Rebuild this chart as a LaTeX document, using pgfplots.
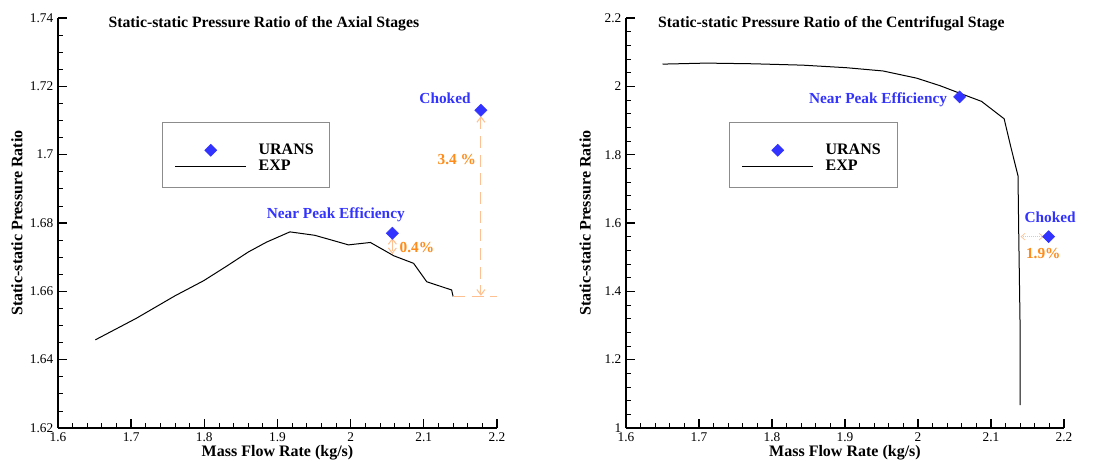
\documentclass[border=0pt]{standalone}
\usepackage{pgfplots}
\pgfplotsset{compat=1.18}
\usepackage{fontspec}
\setmainfont{Liberation Serif}
\usetikzlibrary{arrows.meta}
\definecolor{uransblue}{RGB}{51,51,255}
\definecolor{annorange}{RGB}{255,140,26}
\definecolor{annpeach}{RGB}{255,192,145}

\newcommand{\labfont}{\fontsize{12}{14}\selectfont\bfseries}
\newcommand{\notefont}{\fontsize{11.5}{13}\selectfont\bfseries}

\tikzset{
  note/.style={font=\notefont},
  gap/.style={annpeach, line width=0.8pt, dash pattern=on 9pt off 5pt,
    arrows={Straight Barb[length=4pt,width=6pt]-Straight Barb[length=4pt,width=6pt]}},
  legbox/.style={draw=gray!90, line width=0.7pt},
}
\pgfplotsset{
  tecstyle/.style={
    scale only axis, width=329.25pt, height=307.5pt,
    axis x line*=bottom, axis y line*=left,
    axis line style={line width=1.5pt},
    tick align=inside,
    major tick length=6.75pt, minor tick length=3.4pt,
    every major tick/.append style={line width=1pt, black},
    every minor tick/.append style={line width=0.6pt, black},
    tick label style={font=\fontsize{10}{12}\selectfont},
    /pgf/number format/assume math mode=true,
    xmin=1.6, xmax=2.2, xtick={1.6,1.7,1.8,1.9,2,2.1,2.2}, minor x tick num=4,
    every axis x label/.style={at={(axis description cs:0.5,-0.061)},anchor=center,font=\labfont},
    every axis y label/.style={at={(axis description cs:-0.0934,0.5)},rotate=90,anchor=center,font=\labfont},
    every axis title/.style={at={(axis description cs:0.469,0.985)},anchor=center,
      font=\fontsize{11.8}{14}\selectfont\bfseries},
    xlabel={Mass Flow Rate (kg/s)},
    ylabel={Static-static Pressure Ratio},
    clip=false,
    reverse legend,
    legend cell align=left,
    legend style={anchor=north west, draw=none, fill=none, inner xsep=9.5pt, inner ysep=12.5pt,
      yshift=-3pt, font=\labfont, column sep=8pt, row sep=1pt,
      nodes={inner sep=1pt, text height=8pt, text depth=1pt}},
  },
  urans/.style={only marks, mark=square*, mark size=3.2pt,
    mark options={rotate=45, draw=uransblue, fill=uransblue},
    legend image code/.code={\draw[mark repeat=2,mark phase=2,##1] plot coordinates {(0pt,0pt)(26.5pt,0pt)(53pt,0pt)};}},
  exp/.style={black, line width=0.75pt,
    legend image code/.code={\draw[##1] (0pt,0pt) -- (53pt,0pt);}},
}

\begin{document}
\begin{tikzpicture}
% axial stages
\begin{axis}[tecstyle, at={(0pt,0pt)}, anchor=south west,
  ymin=1.62, ymax=1.74, ytick={1.62,1.64,1.66,1.68,1.7,1.72,1.74}, minor y tick num=3,
  title={Static-static Pressure Ratio of the Axial Stages},
  legend style={at={(axis description cs:0.2369,0.7463)}},
]
\addplot[exp] coordinates {
  (1.651,1.6458)(1.707,1.6521)(1.760,1.6587)(1.799,1.6631)(1.830,1.6673)
  (1.860,1.6715)(1.885,1.6744)(1.917,1.6774)(1.951,1.6764)(1.997,1.6736)
  (2.027,1.6743)(2.059,1.6704)(2.086,1.6682)(2.104,1.6628)(2.138,1.6604)
  (2.140,1.6585)};
\addlegendentry{EXP}
\addplot[urans] coordinates {(2.057,1.677)(2.178,1.713)};
\addlegendentry{URANS}
\draw[legbox] (axis description cs:0.2369,0.7463) rectangle (axis description cs:0.6173,0.5878);
\draw[gap] (axis cs:2.057,1.6756) -- (axis cs:2.057,1.6709);
\draw[gap] (axis cs:2.178,1.7113) -- (axis cs:2.178,1.6587);
\draw[annpeach, line width=0.8pt, dash pattern=on 9pt off 5pt] (axis cs:2.14,1.6585) -- (axis cs:2.2,1.6585);
\node[note, text=uransblue] at (axis cs:2.129,1.7166) {Choked};
\node[note, text=uransblue] at (axis cs:1.9796,1.6824) {Near Peak Efficiency};
\node[note, text=annorange] at (axis cs:2.145,1.6987) {3.4 \%};
\node[note, text=annorange] at (axis cs:2.0905,1.6729) {0.4\%};
\end{axis}
% centrifugal stage
\begin{axis}[tecstyle, at={(426pt,0pt)}, anchor=south west,
  width=328.5pt,
  ymin=1, ymax=2.2, ytick={1,1.2,1.4,1.6,1.8,2,2.2}, minor y tick num=4,
  title={Static-static Pressure Ratio of the Centrifugal Stage},
  legend style={at={(axis description cs:0.2352,0.7463)}},
]
\addplot[exp] coordinates {
  (1.650,2.065)(1.710,2.068)(1.774,2.066)(1.842,2.062)(1.902,2.0545)
  (1.952,2.045)(1.998,2.024)(2.030,2.002)(2.057,1.980)(2.087,1.956)
  (2.118,1.905)(2.127,1.824)(2.137,1.738)(2.138,1.570)(2.140,1.277)
  (2.140,1.067)};
\addlegendentry{EXP}
\addplot[urans] coordinates {(2.057,1.969)(2.179,1.560)};
\addlegendentry{URANS}
\draw[legbox] (axis description cs:0.2352,0.7463) rectangle (axis description cs:0.6187,0.5878);
\draw[annpeach, line width=0.5pt, densely dotted,
  arrows={Straight Barb[length=3pt,width=5pt]-Straight Barb[length=3pt,width=5pt]}]
  (axis cs:2.1405,1.560) -- (axis cs:2.172,1.560);
\node[note, text=uransblue] at (axis cs:1.9453,1.9608) {Near Peak Efficiency};
\node[note, text=uransblue, anchor=west, inner sep=0pt] at (axis cs:2.1456,1.617) {Choked};
\node[note, text=annorange] at (axis cs:2.1716,1.5097) {1.9\%};
\end{axis}
\pgfresetboundingbox
\useasboundingbox (-43.5pt,-24.75pt) rectangle (783.75pt,321pt);
\end{tikzpicture}
\end{document}
